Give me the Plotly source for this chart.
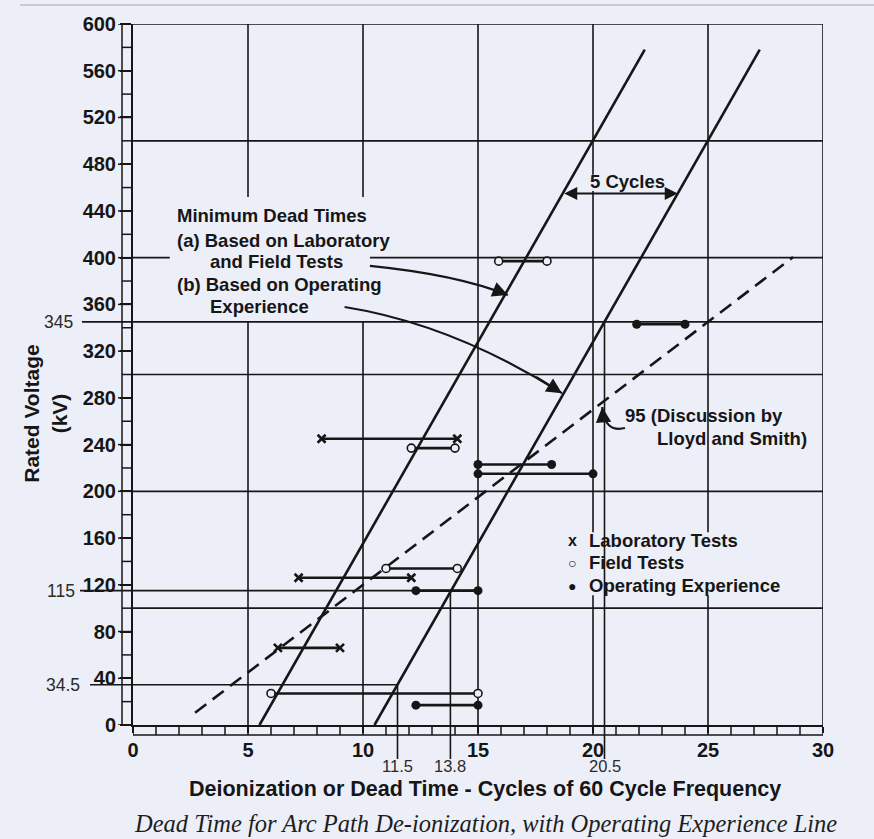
import plotly.graph_objects as go

INK = "#161616"
BG = "#edeff8"
FONT = "Liberation Sans, Arial, sans-serif"

# ---------------- data ----------------
lab_start = [8.2, 7.2, 6.3]
lab_end = [14.1, 12.1, 9.0]
lab_kv = [245, 126, 66]

field_start = [15.9, 12.1, 11.0, 6.0]
field_end = [18.0, 14.0, 14.1, 15.0]
field_kv = [397, 237, 134, 27]

oper_start = [21.9, 15.0, 15.0, 12.3, 12.3]
oper_end = [24.0, 18.2, 20.0, 15.0, 15.0]
oper_kv = [343, 223, 215, 115, 17]

line_a_cycles = [5.5, 22.25]      # minimum dead time (a)
line_b_cycles = [10.5, 27.25]     # minimum dead time (b)
line_kv = [0, 578]

oper_line_cycles = [2.7, 28.7]    # operating experience (dashed)
oper_line_kv = [10.5, 400.5]

ref_kv = [34.5, 115, 345]
ref_cycles = [11.5, 13.8, 20.5]
ref_line_end = [11.5, 15, 30]
ref_kv_labels = ["34.5", "115", "345"]
ref_cycle_labels = ["11.5", "13.8", "20.5"]

x_ticks = [0, 5, 10, 15, 20, 25, 30]
y_ticks = list(range(0, 601, 40))

# gridline segments (value, from, to)
h_grid = [(100, 0, 30), (200, 0, 30), (300, 0, 30), (400, 0, 1.6), (400, 10.3, 30),
          (500, 0, 30), (600, 0, 30)]
v_grid = [(5, 0, 345), (5, 452, 600), (10, 0, 345), (10, 452, 600), (15, 0, 600),
          (20, 0, 111), (20, 165, 457), (20, 471, 600), (25, 0, 111), (25, 165, 600),
          (30, 0, 600)]


def segs(starts, ends, kv):
    xs, ys = [], []
    for a, b, v in zip(starts, ends, kv):
        xs += [a, b, None]
        ys += [v, v, None]
    return xs, ys


fig = go.Figure()

fig.add_trace(go.Scatter(x=line_a_cycles, y=line_kv, mode="lines",
                         line=dict(color=INK, width=2.6), showlegend=False))
fig.add_trace(go.Scatter(x=line_b_cycles, y=line_kv, mode="lines",
                         line=dict(color=INK, width=2.6), showlegend=False))
fig.add_trace(go.Scatter(x=oper_line_cycles, y=oper_line_kv, mode="lines",
                         line=dict(color=INK, width=2.6, dash="14px,8px"), showlegend=False))

xs, ys = segs(lab_start, lab_end, lab_kv)
fig.add_trace(go.Scatter(x=xs, y=ys, mode="lines+markers", showlegend=False,
                         line=dict(color=INK, width=2.6),
                         marker=dict(symbol="x-thin", size=8, line=dict(color=INK, width=2.6))))
xs, ys = segs(field_start, field_end, field_kv)
fig.add_trace(go.Scatter(x=xs, y=ys, mode="lines+markers", showlegend=False,
                         line=dict(color=INK, width=2.6),
                         marker=dict(symbol="circle", size=8, color=BG, line=dict(color=INK, width=1.6))))
xs, ys = segs(oper_start, oper_end, oper_kv)
fig.add_trace(go.Scatter(x=xs, y=ys, mode="lines+markers", showlegend=False,
                         line=dict(color=INK, width=2.6),
                         marker=dict(symbol="circle", size=9, color=INK)))

shapes = []
for v, a, b in h_grid:
    shapes.append(dict(type="line", xref="x", yref="y", x0=a, x1=b, y0=v, y1=v,
                       line=dict(color=INK, width=1.6), layer="below"))
for x, a, b in v_grid:
    shapes.append(dict(type="line", xref="x", yref="y", x0=x, x1=x, y0=a, y1=b,
                       line=dict(color=INK, width=1.6), layer="below"))

# faint scan frame line at the top
shapes.append(dict(type="line", xref="paper", x0=-0.164, x1=1.08, yref="paper",
                   ysizemode="pixel", yanchor=1, y0=19, y1=19,
                   line=dict(color="#a4a6b2", width=1)))

# y-axis ladder
shapes.append(dict(type="line", xref="paper", xsizemode="pixel", xanchor=0, x0=-11, x1=-11,
                   yref="y", y0=0, y1=600, line=dict(color=INK, width=1.5)))
for v in range(0, 601, 20):
    shapes.append(dict(type="line", xref="paper", xsizemode="pixel", xanchor=0,
                       x0=-15 if v in y_ticks else -11, x1=0,
                       yref="y", y0=v, y1=v, line=dict(color=INK, width=1.5)))
# x-axis ladder
shapes.append(dict(type="line", yref="paper", ysizemode="pixel", yanchor=0, y0=-10, y1=-10,
                   xref="x", x0=0, x1=30, line=dict(color=INK, width=1.5)))
for x in range(0, 31):
    shapes.append(dict(type="line", yref="paper", ysizemode="pixel", yanchor=0, y0=-10, y1=0,
                       xref="x", x0=x, x1=x, line=dict(color=INK, width=1.5)))

# reference voltage lines and drop lines
ext_px = [43, 53, 51]
for v, c, e, px in zip(ref_kv, ref_cycles, ref_line_end, ext_px):
    shapes.append(dict(type="line", xref="x", yref="y", x0=0, x1=e, y0=v, y1=v,
                       line=dict(color=INK, width=1.6)))
    shapes.append(dict(type="line", xref="paper", xsizemode="pixel", xanchor=0, x0=-px, x1=0,
                       yref="y", y0=v, y1=v, line=dict(color=INK, width=1.6)))
    shapes.append(dict(type="line", xref="x", yref="y", x0=c, x1=c, y0=0, y1=v,
                       line=dict(color=INK, width=1.6)))
    shapes.append(dict(type="line", xref="x", yref="paper", ysizemode="pixel", yanchor=0,
                       x0=c, x1=c, y0=-34, y1=0, line=dict(color=INK, width=1.6)))

# curved pointer arrows
curves = [((10.3, 393), (14.1, 385.5), (16.3, 368)),
          ((9.2, 357.8), (13.9, 343.1), (18.65, 284)),
          ((21.39, 254.2), (20.5, 250), (20.4, 272.2))]
annotations = []
for p0, c, p2 in curves:
    shapes.append(dict(type="path", xref="x", yref="y",
                       path=f"M {p0[0]},{p0[1]} Q {c[0]},{c[1]} {p2[0]},{p2[1]}",
                       line=dict(color=INK, width=2.2)))
    tx = p2[0] - 0.25 * (p2[0] - c[0])
    ty = p2[1] - 0.25 * (p2[1] - c[1])
    annotations.append(dict(x=p2[0], y=p2[1], ax=tx, ay=ty, axref="x", ayref="y",
                            xref="x", yref="y", text="", showarrow=True, arrowhead=2,
                            arrowsize=1.4, arrowwidth=2.2, arrowcolor=INK))

# 5 cycles double arrow
arrow_kv = 455
xa = line_a_cycles[0] + (line_a_cycles[1] - line_a_cycles[0]) * arrow_kv / line_kv[1]
xb = line_b_cycles[0] + (line_b_cycles[1] - line_b_cycles[0]) * arrow_kv / line_kv[1]
annotations.append(dict(x=xb, y=arrow_kv, ax=xa, ay=arrow_kv, axref="x", ayref="y",
                        xref="x", yref="y", text="", showarrow=True, arrowhead=2,
                        arrowside="end+start", arrowsize=1.3, arrowwidth=2, arrowcolor=INK))
annotations.append(dict(x=21.5, y=465, xref="x", yref="y", text="<b>5 Cycles</b>",
                        showarrow=False, font=dict(family=FONT, size=18.5, color=INK)))

# text block
block = [("Minimum Dead Times", 1.83, 436.5), ("(a) Based on Laboratory", 1.83, 415),
         ("and Field Tests", 3.26, 396.5), ("(b) Based on Operating", 1.83, 377),
         ("Experience", 3.26, 358)]
for t, x, y in block:
    annotations.append(dict(x=x, y=y, xref="x", yref="y", text=f"<b>{t}</b>", showarrow=False,
                            xanchor="left", yanchor="middle",
                            font=dict(family=FONT, size=18.5, color=INK)))

annotations.append(dict(x=21.3, y=265, xref="x", yref="y", text="<b>95 (Discussion by</b>",
                        showarrow=False, xanchor="left", yanchor="middle",
                        font=dict(family=FONT, size=18.5, color=INK)))
annotations.append(dict(x=22.7, y=245.5, xref="x", yref="y", text="<b>Lloyd and Smith)</b>",
                        showarrow=False, xanchor="left", yanchor="middle",
                        font=dict(family=FONT, size=18.5, color=INK)))

# legend
legend_items = [("x", "Laboratory Tests", 157.5), ("○", "Field Tests", 138.7),
                ("●", "Operating Experience", 119)]
for sym, t, y in legend_items:
    annotations.append(dict(x=19.1, y=y, xref="x", yref="y", text=f"<b>{sym}</b>",
                            showarrow=False, xanchor="center", yanchor="middle",
                            font=dict(family=FONT, size=14 if sym != "x" else 16, color=INK)))
    annotations.append(dict(x=19.74, y=y, xref="x", yref="y", text=f"<b>{t}</b>",
                            showarrow=False, xanchor="left", yanchor="middle",
                            font=dict(family=FONT, size=18.5, color=INK)))

# reference labels
lbl_shift = [-51, -56, -58]
for v, t, s in zip(ref_kv, ref_kv_labels, lbl_shift):
    annotations.append(dict(x=0, y=v, xref="paper", yref="y", text=t, showarrow=False,
                            xanchor="right", yanchor="middle", xshift=s,
                            font=dict(family=FONT, size=17.5, color="#2a2a2a")))
for c, t in zip(ref_cycles, ref_cycle_labels):
    annotations.append(dict(x=c, y=0, xref="x", yref="paper", text=t, showarrow=False,
                            xanchor="center", yanchor="middle", yshift=-41,
                            font=dict(family=FONT, size=16.5, color="#2a2a2a")))

# axis titles and caption
annotations.append(dict(x=0.51, y=0, xref="paper", yref="paper", yshift=-64,
                        text="<b>Deionization or Dead Time - Cycles of 60 Cycle Frequency</b>",
                        showarrow=False, xanchor="center", yanchor="middle",
                        font=dict(family=FONT, size=21.5, color=INK)))
annotations.append(dict(x=0, y=0.444, xref="paper", yref="paper", xshift=-88,
                        text="<b>Rated Voltage<br>(kV)</b>", textangle=-90,
                        showarrow=False, xanchor="center", yanchor="middle",
                        font=dict(family=FONT, size=21, color=INK)))
annotations.append(dict(x=0, y=0, xref="paper", yref="paper", yshift=-98, xshift=-1,
                        text="<i>Dead Time for Arc Path De-ionization, with Operating Experience Line</i>",
                        showarrow=False, xanchor="left", yanchor="middle",
                        font=dict(family="Liberation Serif, Times New Roman, serif", size=24.5,
                                  color="#1e1e1e")))

fig.update_layout(
    width=874, height=839,
    margin=dict(l=133, r=51, t=24, b=114),
    paper_bgcolor=BG, plot_bgcolor=BG,
    showlegend=False,
    shapes=shapes, annotations=annotations,
    xaxis=dict(range=[0, 30], tickvals=x_ticks, ticktext=[str(v) for v in x_ticks],
               showgrid=False, zeroline=False, showline=True, linecolor=INK, linewidth=2,
               ticks="outside", ticklen=6, tickcolor=INK, tickwidth=1.5,
               tickfont=dict(family=FONT, size=20, color=INK, weight="bold")),
    yaxis=dict(range=[0, 600], tickvals=y_ticks, ticktext=[str(v) for v in y_ticks],
               showgrid=False, zeroline=False, showline=True, linecolor=INK, linewidth=2,
               ticks="outside", ticklen=11, tickcolor=INK, tickwidth=1.5,
               tickfont=dict(family=FONT, size=20, color=INK, weight="bold")),
)

fig.write_html("out.html", config={"displayModeBar": False},
               post_script="document.body.style.margin='0';document.body.style.background='%s';"
                           "document.documentElement.style.overflow='hidden';" % BG)
